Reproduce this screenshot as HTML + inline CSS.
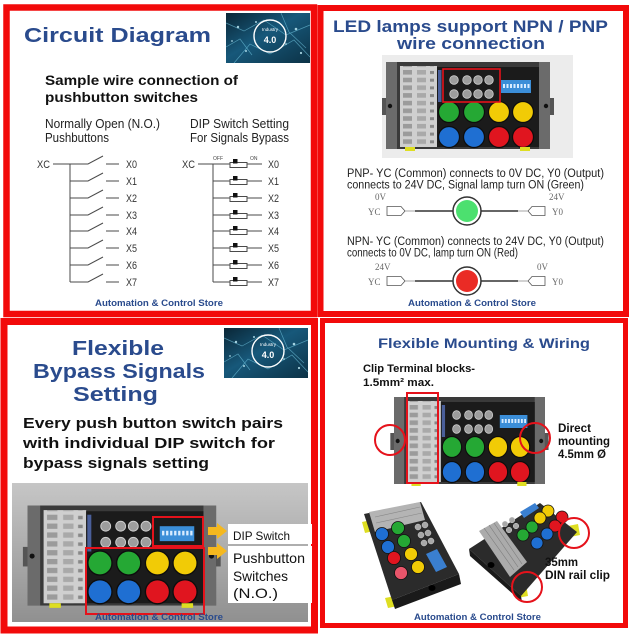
<!DOCTYPE html>
<html><head><meta charset="utf-8">
<style>
html,body{margin:0;padding:0;background:#fff;width:635px;height:635px;overflow:hidden}
svg{display:block}
text{font-family:"Liberation Sans",sans-serif}
.ser{font-family:"Liberation Serif",serif}
</style></head><body>
<svg width="635" height="635" viewBox="0 0 635 635" xmlns="http://www.w3.org/2000/svg">
<defs>
 <linearGradient id="tech" x1="0" y1="0" x2="1" y2="1">
  <stop offset="0" stop-color="#0a2636"/><stop offset="0.45" stop-color="#17587a"/><stop offset="1" stop-color="#0c3246"/>
 </linearGradient>
 <linearGradient id="bg3" x1="0" y1="0" x2="0" y2="1">
  <stop offset="0" stop-color="#c6c6c6"/><stop offset="1" stop-color="#909090"/>
 </linearGradient>
 <pattern id="tb" patternUnits="userSpaceOnUse" x="14" y="8" width="37" height="7.7">
  <rect x="3" y="0" width="9" height="4.6" fill="#9b9b9b"/>
  <rect x="17" y="0" width="9" height="4.6" fill="#a9a9a9"/>
  <rect x="30" y="1" width="4" height="3" fill="#888"/>
 </pattern>
 <g id="dev">
  <rect x="-4" y="36" width="172" height="17" fill="#555"/>
  <rect x="0" y="0" width="164" height="87" fill="#3a3a3a"/>
  <rect x="0" y="0" width="11" height="87" fill="#6b6b6b"/>
  <rect x="153" y="0" width="11" height="87" fill="#6b6b6b"/>
  <circle cx="4" cy="44" r="2.2" fill="#111"/>
  <circle cx="160" cy="44" r="2.2" fill="#111"/>
  <rect x="14" y="4" width="37" height="81" fill="#cfcfcf"/>
  <rect x="14" y="4" width="37" height="81" fill="url(#tb)"/>
  <rect x="51" y="5" width="102" height="80" fill="#1b1b1b"/>
  <rect x="52" y="8" width="3.5" height="32" fill="#4a5f9a"/>
  <g fill="#9d9d9d" stroke="#cfcfcf" stroke-width="0.8">
   <circle cx="68" cy="18" r="4.3"/><circle cx="81" cy="18" r="4.3"/><circle cx="92" cy="18" r="4.3"/><circle cx="103" cy="18" r="4.3"/>
   <circle cx="68" cy="32" r="4.3"/><circle cx="81" cy="32" r="4.3"/><circle cx="92" cy="32" r="4.3"/><circle cx="103" cy="32" r="4.3"/>
  </g>
  <rect x="115" y="18" width="30" height="13" fill="#3b8ed8"/>
  <g fill="#d8ecff">
   <rect x="117" y="22" width="2" height="4"/><rect x="120.5" y="22" width="2" height="4"/><rect x="124" y="22" width="2" height="4"/><rect x="127.5" y="22" width="2" height="4"/>
   <rect x="131" y="22" width="2" height="4"/><rect x="134.5" y="22" width="2" height="4"/><rect x="138" y="22" width="2" height="4"/><rect x="141.5" y="22" width="2" height="4"/>
  </g>
  <g stroke="#0d0d0d" stroke-width="1.2">
   <circle cx="63" cy="50" r="10.5" fill="#25a834"/>
   <circle cx="88" cy="50" r="10.5" fill="#25a834"/>
   <circle cx="113" cy="50" r="10.5" fill="#f1cb06"/>
   <circle cx="137" cy="50" r="10.5" fill="#f1cb06"/>
   <circle cx="63" cy="75" r="10.5" fill="#1f6fd2"/>
   <circle cx="88" cy="75" r="10.5" fill="#1f6fd2"/>
   <circle cx="113" cy="75" r="10.5" fill="#e0151f"/>
   <circle cx="137" cy="75" r="10.5" fill="#e0151f"/>
  </g>
  <rect x="19" y="85" width="10" height="4" fill="#dede22"/>
  <rect x="134" y="85" width="10" height="4" fill="#dede22"/>
 </g>
 <g id="techimg">
  <rect x="0" y="0" width="84" height="50" fill="url(#tech)"/>
  <g stroke="#7fd8f2" stroke-width="0.7" fill="none" opacity="0.55">
   <polyline points="0,10 18,18 38,7 60,22 84,12"/>
   <polyline points="8,50 24,31 44,41 68,27 84,44"/>
   <polyline points="55,0 63,19 80,35"/>
   <polyline points="0,34 14,26 26,42"/>
  </g>
  <g fill="#c8f4ff" opacity="0.8">
   <circle cx="12" cy="14" r="1.2"/><circle cx="30" cy="9" r="1"/><circle cx="70" cy="16" r="1.3"/><circle cx="20" cy="38" r="1"/><circle cx="75" cy="40" r="1.1"/><circle cx="60" cy="31" r="0.9"/><circle cx="6" cy="28" r="0.9"/>
  </g>
  <circle cx="44" cy="23" r="16" fill="none" stroke="#fff" stroke-width="1.4"/>
  <text x="44" y="18" font-size="4.5" fill="#fff" text-anchor="middle">Industry</text>
  <text x="44" y="30" font-size="9" font-weight="bold" fill="#fff" text-anchor="middle">4.0</text>
 </g>
</defs>

<!-- ============ TOP LEFT ============ -->
<rect x="6.5" y="7.5" width="307.5" height="306.5" fill="#fff" stroke="#f20a0a" stroke-width="6.5"/>
<text x="24" y="42" font-size="20" font-weight="bold" fill="#2a4b8d" textLength="187" lengthAdjust="spacingAndGlyphs">Circuit Diagram</text>
<use href="#techimg" transform="translate(226,13)"/>
<text x="45" y="85" font-size="14" font-weight="bold" fill="#111" textLength="193" lengthAdjust="spacingAndGlyphs">Sample wire connection of</text>
<text x="45" y="102" font-size="14" font-weight="bold" fill="#111" textLength="153" lengthAdjust="spacingAndGlyphs">pushbutton switches</text>
<text x="45" y="128" font-size="12.5" fill="#222" textLength="115" lengthAdjust="spacingAndGlyphs">Normally Open (N.O.)</text>
<text x="45" y="142" font-size="12.5" fill="#222" textLength="64" lengthAdjust="spacingAndGlyphs">Pushbuttons</text>
<text x="190" y="128" font-size="12.5" fill="#222" textLength="99" lengthAdjust="spacingAndGlyphs">DIP Switch Setting</text>
<text x="190" y="142" font-size="12.5" fill="#222" textLength="99" lengthAdjust="spacingAndGlyphs">For Signals Bypass</text>

<g stroke="#4a4a4a" stroke-width="1" fill="none">
 <path d="M53 164H88L103 156M106 164H119"/>
 <path d="M70 164V282"/>
 <path d="M70 181H88L103 173M106 181H119"/>
 <path d="M70 198H88L103 190M106 198H119"/>
 <path d="M70 215H88L103 207M106 215H119"/>
 <path d="M70 231H88L103 223M106 231H119"/>
 <path d="M70 248H88L103 240M106 248H119"/>
 <path d="M70 265H88L103 257M106 265H119"/>
 <path d="M70 282H88L103 274M106 282H119"/>
</g>
<g font-size="11" fill="#333">
 <text x="37" y="168" textLength="13" lengthAdjust="spacingAndGlyphs">XC</text>
 <text x="126" y="168" textLength="11" lengthAdjust="spacingAndGlyphs">X0</text>
 <text x="126" y="185" textLength="11" lengthAdjust="spacingAndGlyphs">X1</text>
 <text x="126" y="202" textLength="11" lengthAdjust="spacingAndGlyphs">X2</text>
 <text x="126" y="219" textLength="11" lengthAdjust="spacingAndGlyphs">X3</text>
 <text x="126" y="235" textLength="11" lengthAdjust="spacingAndGlyphs">X4</text>
 <text x="126" y="252" textLength="11" lengthAdjust="spacingAndGlyphs">X5</text>
 <text x="126" y="269" textLength="11" lengthAdjust="spacingAndGlyphs">X6</text>
 <text x="126" y="286" textLength="11" lengthAdjust="spacingAndGlyphs">X7</text>
 <text x="182" y="168" textLength="13" lengthAdjust="spacingAndGlyphs">XC</text>
 <text x="268" y="168" textLength="11" lengthAdjust="spacingAndGlyphs">X0</text>
 <text x="268" y="185" textLength="11" lengthAdjust="spacingAndGlyphs">X1</text>
 <text x="268" y="202" textLength="11" lengthAdjust="spacingAndGlyphs">X2</text>
 <text x="268" y="219" textLength="11" lengthAdjust="spacingAndGlyphs">X3</text>
 <text x="268" y="235" textLength="11" lengthAdjust="spacingAndGlyphs">X4</text>
 <text x="268" y="252" textLength="11" lengthAdjust="spacingAndGlyphs">X5</text>
 <text x="268" y="269" textLength="11" lengthAdjust="spacingAndGlyphs">X6</text>
 <text x="268" y="286" textLength="11" lengthAdjust="spacingAndGlyphs">X7</text>
</g>
<text x="213" y="160" font-size="5" fill="#444">OFF</text>
<text x="250" y="160" font-size="5" fill="#444">ON</text>
<g stroke="#4a4a4a" stroke-width="1" fill="none">
 <path d="M198 164H230M213 164V282M213 181H230M213 198H230M213 215H230M213 231H230M213 248H230M213 265H230M213 282H230"/>
 <path d="M247 164H262M247 181H262M247 198H262M247 215H262M247 231H262M247 248H262M247 265H262M247 282H262"/>
 <g fill="#fff">
  <rect x="230" y="162.5" width="17" height="5"/>
  <rect x="230" y="179.5" width="17" height="5"/>
  <rect x="230" y="196.5" width="17" height="5"/>
  <rect x="230" y="213.5" width="17" height="5"/>
  <rect x="230" y="229.5" width="17" height="5"/>
  <rect x="230" y="246.5" width="17" height="5"/>
  <rect x="230" y="263.5" width="17" height="5"/>
  <rect x="230" y="280.5" width="17" height="5"/>
 </g>
</g>
<g fill="#111">
 <rect x="233" y="159" width="4.5" height="4.5"/>
 <rect x="233" y="176" width="4.5" height="4.5"/>
 <rect x="233" y="193" width="4.5" height="4.5"/>
 <rect x="233" y="210" width="4.5" height="4.5"/>
 <rect x="233" y="226" width="4.5" height="4.5"/>
 <rect x="233" y="243" width="4.5" height="4.5"/>
 <rect x="233" y="260" width="4.5" height="4.5"/>
 <rect x="233" y="277" width="4.5" height="4.5"/>
</g>
<text x="95" y="306" font-size="9" font-weight="bold" fill="#2a4b8d" textLength="128" lengthAdjust="spacingAndGlyphs">Automation &amp; Control Store</text>

<!-- ============ TOP RIGHT ============ -->
<rect x="320.5" y="8" width="305.5" height="306" fill="#fff" stroke="#f20a0a" stroke-width="6"/>
<text x="333" y="32" font-size="17" font-weight="bold" fill="#2a4b8d" textLength="275" lengthAdjust="spacingAndGlyphs">LED lamps support NPN / PNP</text>
<text x="397" y="49" font-size="17" font-weight="bold" fill="#2a4b8d" textLength="148" lengthAdjust="spacingAndGlyphs">wire connection</text>
<rect x="382" y="55" width="191" height="103" fill="#ececec"/>
<use href="#dev" transform="translate(386,62)"/>
<rect x="443" y="69" width="57" height="33" fill="none" stroke="#e5121b" stroke-width="1.6"/>

<text x="347" y="177" font-size="11.5" fill="#222" textLength="257" lengthAdjust="spacingAndGlyphs">PNP- YC (Common) connects to 0V DC, Y0 (Output)</text>
<text x="347" y="188.5" font-size="11.5" fill="#222" textLength="237" lengthAdjust="spacingAndGlyphs">connects to 24V DC, Signal lamp turn ON (Green)</text>
<g class="ser" font-size="9" fill="#666">
 <text class="ser" x="375" y="200">0V</text>
 <text class="ser" x="549" y="200">24V</text>
 <text class="ser" x="368" y="215">YC</text>
 <text class="ser" x="552" y="215">Y0</text>
</g>
<g fill="#fff" stroke="#555" stroke-width="0.8">
 <polygon points="387,206.5 401,206.5 405,211 401,215.5 387,215.5"/>
 <polygon points="528,211 532,206.5 545,206.5 545,215.5 532,215.5"/>
</g>
<path d="M405 211H415M518 211H528" stroke="#888" stroke-width="0.8"/>
<path d="M415 211H453M481 211H518" stroke="#333" stroke-width="1.5"/>
<circle cx="467" cy="211" r="14" fill="#fff" stroke="#333" stroke-width="1.5"/>
<circle cx="467" cy="211" r="11" fill="#4ce06f"/>

<text x="347" y="245" font-size="11.5" fill="#222" textLength="257" lengthAdjust="spacingAndGlyphs">NPN- YC (Common) connects to 24V DC, Y0 (Output)</text>
<text x="347" y="256.5" font-size="11.5" fill="#222" textLength="171" lengthAdjust="spacingAndGlyphs">connects to 0V DC, lamp turn ON (Red)</text>
<g font-size="9" fill="#666">
 <text class="ser" x="375" y="270">24V</text>
 <text class="ser" x="537" y="270">0V</text>
 <text class="ser" x="368" y="285">YC</text>
 <text class="ser" x="552" y="285">Y0</text>
</g>
<g fill="#fff" stroke="#555" stroke-width="0.8">
 <polygon points="387,276.5 401,276.5 405,281 401,285.5 387,285.5"/>
 <polygon points="528,281 532,276.5 545,276.5 545,285.5 532,285.5"/>
</g>
<path d="M405 281H415M518 281H528" stroke="#888" stroke-width="0.8"/>
<path d="M415 281H453M481 281H518" stroke="#333" stroke-width="1.5"/>
<circle cx="467" cy="281" r="14" fill="#fff" stroke="#333" stroke-width="1.5"/>
<circle cx="467" cy="281" r="11" fill="#ea2b25"/>
<text x="408" y="306" font-size="9" font-weight="bold" fill="#2a4b8d" textLength="128" lengthAdjust="spacingAndGlyphs">Automation &amp; Control Store</text>

<!-- ============ BOTTOM LEFT ============ -->
<rect x="4" y="321.5" width="310.5" height="308.5" fill="#fff" stroke="#f20a0a" stroke-width="7"/>
<text x="72" y="355" font-size="20" font-weight="bold" fill="#2a4b8d" textLength="92" lengthAdjust="spacingAndGlyphs">Flexible</text>
<text x="33" y="378" font-size="20" font-weight="bold" fill="#2a4b8d" textLength="172" lengthAdjust="spacingAndGlyphs">Bypass Signals</text>
<text x="73" y="401" font-size="20" font-weight="bold" fill="#2a4b8d" textLength="85" lengthAdjust="spacingAndGlyphs">Setting</text>
<use href="#techimg" transform="translate(224,328)"/>
<text x="23" y="428" font-size="14.5" font-weight="bold" fill="#111" textLength="260" lengthAdjust="spacingAndGlyphs">Every push button switch pairs</text>
<text x="23" y="448" font-size="14.5" font-weight="bold" fill="#111" textLength="252" lengthAdjust="spacingAndGlyphs">with individual DIP switch for</text>
<text x="23" y="468" font-size="14.5" font-weight="bold" fill="#111" textLength="186" lengthAdjust="spacingAndGlyphs">bypass signals setting</text>

<rect x="12" y="483" width="296" height="139" fill="url(#bg3)"/>
<use href="#dev" transform="translate(27.5,505.5) scale(1.15)"/>
<rect x="153" y="517" width="50" height="29" fill="none" stroke="#e5121b" stroke-width="2"/>
<rect x="86" y="548" width="118" height="66" fill="none" stroke="#e5121b" stroke-width="2"/>
<g fill="#f5b81e">
 <polygon points="208,527 217,527 217,523 227,531 217,539 217,535 208,535"/>
 <polygon points="208,547 217,547 217,543 227,551 217,559 217,555 208,555"/>
</g>
<rect x="228" y="524" width="84" height="20" fill="#fff"/>
<rect x="228" y="546" width="84" height="57" fill="#fff"/>
<text x="233" y="540" font-size="12" fill="#111" textLength="57" lengthAdjust="spacingAndGlyphs">DIP Switch</text>
<text x="233" y="563" font-size="14" fill="#111" textLength="72" lengthAdjust="spacingAndGlyphs">Pushbutton</text>
<text x="233" y="581" font-size="14" fill="#111" textLength="55" lengthAdjust="spacingAndGlyphs">Switches</text>
<text x="233" y="598" font-size="14" fill="#111" textLength="45" lengthAdjust="spacingAndGlyphs">(N.O.)</text>
<text x="95" y="620" font-size="9" font-weight="bold" fill="#2a4b8d" textLength="128" lengthAdjust="spacingAndGlyphs">Automation &amp; Control Store</text>

<!-- ============ BOTTOM RIGHT ============ -->
<rect x="322.5" y="320.5" width="303" height="305" fill="#fff" stroke="#f20a0a" stroke-width="5"/>
<text x="378" y="348" font-size="14" font-weight="bold" fill="#2a4b8d" textLength="212" lengthAdjust="spacingAndGlyphs">Flexible Mounting &amp; Wiring</text>
<text x="363" y="372" font-size="11" font-weight="bold" fill="#111" textLength="112" lengthAdjust="spacingAndGlyphs">Clip Terminal blocks-</text>
<text x="363" y="386" font-size="11" font-weight="bold" fill="#111" textLength="71" lengthAdjust="spacingAndGlyphs">1.5mm² max.</text>

<use href="#dev" transform="translate(394,397) scale(0.92,1)"/>
<rect x="407" y="393" width="31" height="90" fill="none" stroke="#e5121b" stroke-width="2"/>
<g fill="none" stroke="#e5121b" stroke-width="2">
 <circle cx="390" cy="440" r="15"/>
 <circle cx="535" cy="438" r="15"/>
</g>
<text x="558" y="432" font-size="12" font-weight="bold" fill="#111" textLength="33" lengthAdjust="spacingAndGlyphs">Direct</text>
<text x="558" y="445" font-size="12" font-weight="bold" fill="#111" textLength="52" lengthAdjust="spacingAndGlyphs">mounting</text>
<text x="558" y="458" font-size="12" font-weight="bold" fill="#111" textLength="48" lengthAdjust="spacingAndGlyphs">4.5mm Ø</text>

<!-- left rotated device -->
<g>
 <polygon points="362,522 371,520 374,531 365,533" fill="#dede22"/>
 <polygon points="385,598 395,596 398,606 388,608" fill="#dede22"/>
 <polygon points="364,514 421,502 459,574 392,600" fill="#2b2b2b"/>
 <polygon points="392,600 459,574 461,584 395,609" fill="#1a1a1a"/>
 <ellipse cx="432" cy="588" rx="3.5" ry="3" fill="#000"/>
 <polygon points="369,512 420,502 425,520 375,532" fill="#b4b4b4"/>
 <g stroke="#888" stroke-width="0.6">
  <path d="M375 517L420 507M376 523L422 513"/>
 </g>
 <g fill="#a8a8a8" stroke="#cfcfcf" stroke-width="0.5">
  <circle cx="418" cy="527" r="3"/><circle cx="425" cy="525" r="3"/><circle cx="421" cy="535" r="3"/><circle cx="428" cy="533" r="3"/><circle cx="424" cy="543" r="3"/><circle cx="431" cy="541" r="3"/>
 </g>
 <polygon points="426,554 437,549 447,567 436,572" fill="#3a7fd0"/>
 <g stroke="#111" stroke-width="0.8">
  <circle cx="382" cy="534" r="6.5" fill="#1f6fd2"/>
  <circle cx="388" cy="547" r="6.5" fill="#1f6fd2"/>
  <circle cx="398" cy="528" r="6.5" fill="#25a834"/>
  <circle cx="404" cy="541" r="6.5" fill="#25a834"/>
  <circle cx="394" cy="558" r="6.5" fill="#e0151f"/>
  <circle cx="401" cy="573" r="6.5" fill="#e8556a"/>
  <circle cx="411" cy="554" r="6.5" fill="#f1cb06"/>
  <circle cx="418" cy="567" r="6.5" fill="#f1cb06"/>
 </g>
</g>
<!-- right rotated device -->
<g>
 <polygon points="568,526 578,524 580,535 570,537" fill="#dede22"/>
 <polygon points="515,586 526,584 528,596 517,598" fill="#dede22"/>
 <polygon points="469,549 540,503 577,532 521,596" fill="#2b2b2b"/>
 <polygon points="469,549 521,596 522,602 470,556" fill="#1a1a1a"/>
 <ellipse cx="491" cy="565" rx="3.5" ry="3" fill="#000"/>
 <polygon points="479,531 497,521 527,562 510,577" fill="#ababab"/>
 <g stroke="#7c7c7c" stroke-width="0.6">
  <path d="M484 528L514 570M489 525L518 567M494 523L522 564"/>
 </g>
 <polygon points="520,512 535,503 539,508 524,518" fill="#3a7fd0"/>
 <g fill="#a8a8a8" stroke="#cfcfcf" stroke-width="0.5">
  <circle cx="505" cy="524" r="2.8"/><circle cx="512" cy="520" r="2.8"/><circle cx="509" cy="530" r="2.8"/><circle cx="516" cy="526" r="2.8"/>
 </g>
 <g stroke="#111" stroke-width="0.8">
  <circle cx="548" cy="511" r="6" fill="#f1cb06"/>
  <circle cx="540" cy="518" r="6" fill="#f1cb06"/>
  <circle cx="562" cy="517" r="6" fill="#e0151f"/>
  <circle cx="555" cy="526" r="6" fill="#e0151f"/>
  <circle cx="532" cy="527" r="6" fill="#25a834"/>
  <circle cx="523" cy="535" r="6" fill="#25a834"/>
  <circle cx="547" cy="534" r="6" fill="#1f6fd2"/>
  <circle cx="537" cy="543" r="6" fill="#1f6fd2"/>
 </g>
</g>
<g fill="none" stroke="#e5121b" stroke-width="2">
 <circle cx="574" cy="533" r="15"/>
 <circle cx="527" cy="587" r="15"/>
</g>
<text x="545" y="566" font-size="12" font-weight="bold" fill="#111" textLength="33" lengthAdjust="spacingAndGlyphs">35mm</text>
<text x="545" y="579" font-size="12" font-weight="bold" fill="#111" textLength="65" lengthAdjust="spacingAndGlyphs">DIN rail clip</text>
<text x="414" y="620" font-size="9" font-weight="bold" fill="#2a4b8d" textLength="127" lengthAdjust="spacingAndGlyphs">Automation &amp; Control Store</text>
</svg>
</body></html>
